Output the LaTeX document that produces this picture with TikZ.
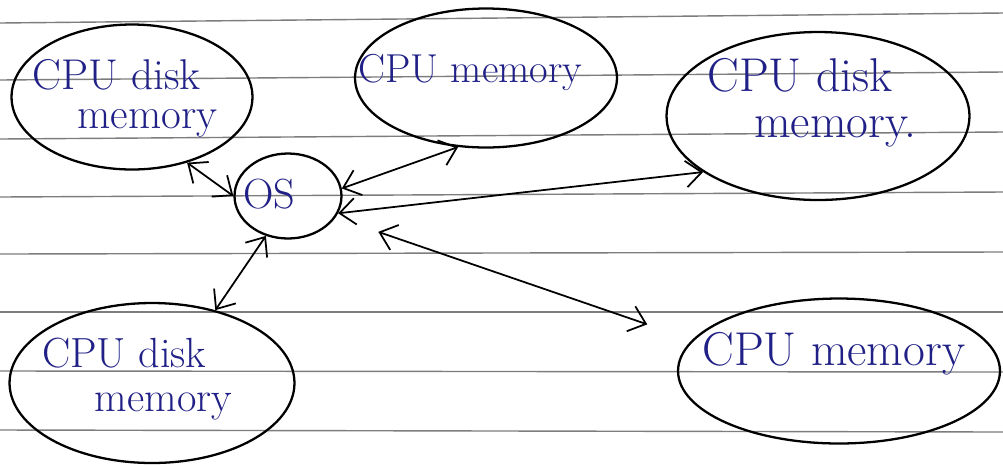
\documentclass[tikz,border=0pt]{standalone}
\usepackage{amsmath, amssymb}
\usepackage{tikz}
\usetikzlibrary{shapes.geometric, arrows.meta}

\definecolor{ink}{RGB}{32,32,135}
\definecolor{ruled}{RGB}{125,125,125}

\begin{document}
\begin{tikzpicture}[x=0.02cm, y=-0.02cm,
        bubble/.style={ellipse, draw, line width=1.3pt, inner sep=0pt},
        word/.style={text=ink, inner sep=0pt, align=left},
        link/.style={{Straight Barb[length=9pt,width=15pt]}-{Straight Barb[length=9pt,width=15pt]}, line width=1pt},
        ruleline/.style={ruled, line width=0.8pt}]
        \useasboundingbox (0,0) rectangle (1003,464);
        \fill[white] (0,0) rectangle (1003,464);

        \foreach \ya/\yb in {23/13, 80/72, 139/132, 197/192, 254/252, 312/312, 371/372, 430/432}
            \draw[ruleline] (0,\ya) -- (1003,\yb);

        \node[bubble, minimum width=4.82cm, minimum height=2.90cm] (cpuA) at (132, 97) {};
        \node[bubble, minimum width=5.24cm, minimum height=2.78cm] (cpuB) at (486, 78) {};
        \node[bubble, minimum width=6.06cm, minimum height=3.36cm] (cpuC) at (818,116) {};
        \node[bubble, minimum width=2.14cm, minimum height=1.70cm] (os)   at (288,196) {};
        \node[bubble, minimum width=5.70cm, minimum height=3.20cm] (cpuD) at (152,383) {};
        \node[bubble, minimum width=6.44cm, minimum height=2.90cm] (cpuE) at (839,371) {};

        \node[word, font=\fontsize{24.5}{22}\selectfont] (txtA) at (125, 98) {CPU disk\\\hspace*{1.04em}memory};
        \node[word, anchor=base west, font=\fontsize{23}{26}\selectfont] (txtB) at (358, 82) {CPU memory};
        \node[word, font=\fontsize{27}{26}\selectfont] (txtC) at (812,103) {CPU disk\\\hspace*{0.99em}memory.};
        \node[word, anchor=base west, font=\fontsize{24}{26}\selectfont] (txtOS) at (243,208) {OS};
        \node[word, font=\fontsize{24}{25.5}\selectfont] (txtD) at (137,379) {CPU disk\\\hspace*{1.25em}memory};
        \node[word, anchor=base west, font=\fontsize{27}{26}\selectfont] (txtE) at (702,365) {CPU memory};

        \draw[link] (cpuA.-50) -- (os.180);
        \draw[link] (os.8) -- (cpuB.-112);
        \draw[link] (os.-19) -- (cpuC.206);
        \draw[link] (os.241) -- (cpuD.49);
        \draw[link, shorten <=0.9cm, shorten >=0.95cm] (os.-24) -- (cpuE.168);
\end{tikzpicture}
\end{document}
